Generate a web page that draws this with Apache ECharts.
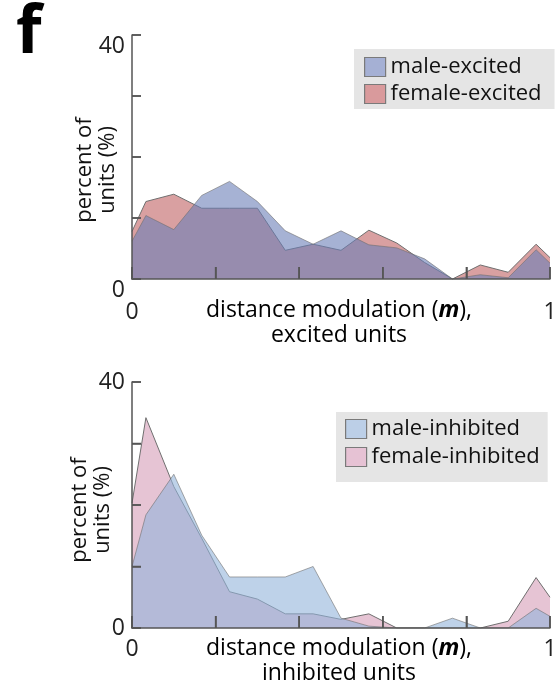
<!DOCTYPE html>
<html><head><meta charset="utf-8">
<script src="https://cdn.jsdelivr.net/npm/echarts@6/dist/echarts.min.js"></script>
<style>html,body{margin:0;padding:0;background:#fff}#c{width:560px;height:690px}</style>
</head><body><div id="c"></div>
<script>
// bin positions (distance modulation m)
const xs = [0, 0.0333, 0.1, 0.1667, 0.2333, 0.3, 0.3667, 0.4333, 0.5, 0.5667, 0.6333, 0.7, 0.7667, 0.8333, 0.9, 0.9667, 1];
// percent of units
const maleExcited     = [6.2, 10.4, 8.1, 13.7, 16.0, 12.7, 7.9, 5.7, 7.9, 5.6, 5.1, 3.3, 0, 0.7, 0.2, 4.8, 2.6];
const femaleExcited   = [7.8, 12.7, 13.9, 11.6, 11.6, 11.6, 4.7, 5.7, 4.7, 8.0, 5.9, 2.7, 0, 2.3, 1.1, 5.7, 3.5];
const maleInhibited   = [10.0, 18.4, 25.0, 15.1, 8.3, 8.3, 8.3, 10.0, 1.6, 0.3, 0, 0, 1.6, 0, 0, 3.2, 1.9];
const femaleInhibited = [20.3, 34.2, 23.0, 14.6, 5.9, 4.7, 2.3, 2.3, 1.4, 2.3, 0, 0, 0, 0, 1.1, 8.2, 5.0];
const yTicks = [0, 10, 20, 30, 40];
const yTickLabels = [0, 40];
const xTicks = [0, 0.2, 0.4, 0.6, 0.8, 1];
const xTickLabels = [0, 1];
const seriesNames = ['male-excited', 'female-excited', 'male-inhibited', 'female-inhibited'];

const FONT = "'Open Sans', sans-serif";
const AXIS_COLOR = '#555';
const pairs = vals => xs.map((x, i) => [x, vals[i]]);

function xAxis(gi, margin) {
  return {
    type: 'value', gridIndex: gi, min: 0, max: 1, interval: 0.2, z: 10,
    axisLine: {show: true, lineStyle: {color: AXIS_COLOR, width: 1.5}},
    axisTick: {show: true, inside: true, length: 12, customValues: xTicks, lineStyle: {color: AXIS_COLOR, width: 1.5}},
    splitLine: {show: false},
    axisLabel: {
      margin: margin, fontSize: 23, fontFamily: FONT, color: '#222', customValues: xTickLabels,
      formatter: v => String(Math.round(v))
    }
  };
}
function yAxis(gi, va) {
  return {
    type: 'value', gridIndex: gi, min: 0, max: 40, interval: 10, z: 10,
    axisLine: {show: true, lineStyle: {color: AXIS_COLOR, width: 1.5}},
    axisTick: {show: true, inside: true, length: 9, customValues: yTicks, lineStyle: {color: AXIS_COLOR, width: 1.5}},
    splitLine: {show: false},
    axisLabel: {
      margin: 7, fontSize: 23, fontFamily: FONT, color: '#222', verticalAlign: va, customValues: yTickLabels,
      formatter: v => String(v)
    }
  };
}
function area(name, gi, vals, color, opacity, z) {
  return {
    name: name, type: 'line', xAxisIndex: gi, yAxisIndex: gi, data: pairs(vals),
    symbol: 'none', silent: true, z: z,
    lineStyle: {color: '#6f6f6f', width: 1, opacity: opacity},
    itemStyle: {color: color},
    areaStyle: {color: color, opacity: opacity}
  };
}
function legend(names, colors, left, top, padding, gap) {
  return {
    data: names.map((n, i) => ({name: n, itemStyle: {color: colors[i], borderColor: '#7a7a7a', borderWidth: 1.2, opacity: 1}})),
    orient: 'vertical', left: left, top: top, icon: 'rect',
    backgroundColor: '#e5e5e5', padding: padding,
    itemWidth: 21, itemHeight: 19, itemGap: gap, selectedMode: false,
    textStyle: {fontSize: 22, fontFamily: FONT, color: '#111'}
  };
}
function xTitle(line2, y) {
  return {
    type: 'text', x: 339, y: y,
    style: {
      text: '{a|distance modulation (}{b|m}{a|),}\n{a|' + line2 + '}',
      align: 'center', verticalAlign: 'top',
      rich: {
        a: {fontSize: 23, fontFamily: FONT, color: '#111', lineHeight: 25},
        b: {fontSize: 23, fontFamily: FONT, color: '#111', lineHeight: 25, fontWeight: 'bold', fontStyle: 'italic'}
      }
    }
  };
}
function yTitle(cx, cy) {
  return {
    type: 'text', x: cx, y: cy, rotation: Math.PI / 2,
    style: {
      text: 'percent of\nunits (%)', fontSize: 22, fontFamily: FONT, fill: '#111',
      lineHeight: 23, align: 'center', verticalAlign: 'middle'
    }
  };
}

const chart = echarts.init(document.getElementById('c'), null, {renderer: 'canvas'});
chart.setOption({
  backgroundColor: '#fff',
  animation: false,
  grid: [
    {left: 132, width: 418, top: 35, height: 244},
    {left: 132, width: 418, top: 382, height: 246}
  ],
  xAxis: [xAxis(0, 22), xAxis(1, 10)],
  yAxis: [yAxis(0, 'top'), yAxis(1, 'middle')],
  legend: [
    legend([seriesNames[0], seriesNames[1]], ['#a5b0d4', '#d99a9c'], 354, 49, [7, 13, 4, 10], 5),
    legend([seriesNames[2], seriesNames[3]], ['#bccfe7', '#e6c2d4'], 336, 412, [6, 8, 14, 9], 6)
  ],
  series: [
    area(seriesNames[1], 0, femaleExcited, '#d9a0a1', 1, 2),
    area(seriesNames[0], 0, maleExcited, '#6b7fb7', 0.6, 3),
    area(seriesNames[3], 1, femaleInhibited, '#e6c4d4', 1, 2),
    area(seriesNames[2], 1, maleInhibited, '#93b4da', 0.6, 3)
  ],
  graphic: [
    {type: 'text', x: 16, y: 1, style: {text: 'f', fontSize: 66, fontWeight: 'bold', fontFamily: FONT, fill: '#000'}},
    yTitle(96, 170),
    yTitle(91, 510),
    xTitle('excited units', 298),
    xTitle('inhibited units', 636)
  ]
});

// overlay the inward tick marks above the filled areas, positioned through the library's own scales
const tickMarks = [];
[0, 1].forEach(gi => {
  xTicks.forEach(v => {
    const p = chart.convertToPixel({xAxisIndex: gi, yAxisIndex: gi}, [v, 0]);
    tickMarks.push({type: 'line', z: 100, silent: true,
      shape: {x1: p[0], y1: p[1], x2: p[0], y2: p[1] - 12},
      style: {stroke: AXIS_COLOR, lineWidth: 1.5}});
  });
  yTicks.forEach(v => {
    const p = chart.convertToPixel({xAxisIndex: gi, yAxisIndex: gi}, [0, v]);
    tickMarks.push({type: 'line', z: 100, silent: true,
      shape: {x1: p[0], y1: p[1], x2: p[0] + 9, y2: p[1]},
      style: {stroke: AXIS_COLOR, lineWidth: 1.5}});
  });
});
chart.setOption({graphic: tickMarks.map((g, i) => Object.assign({id: 'tick' + i}, g))});
</script></body></html>
